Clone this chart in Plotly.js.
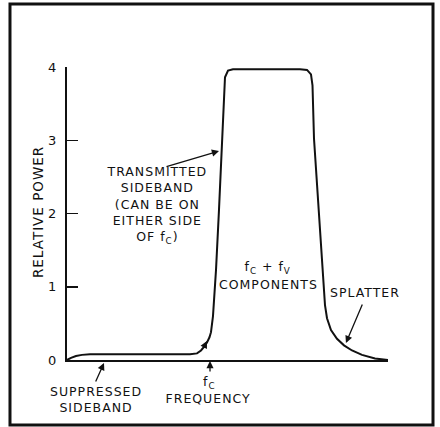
<!DOCTYPE html>
<html>
<head>
<meta charset="utf-8">
<script src="https://cdn.plot.ly/plotly-3.0.1.min.js"></script>
<style>
html,body{margin:0;padding:0;background:#fff;}
#chart{width:440px;height:427px;}
#chart .annotation-text{letter-spacing:1px;}
</style>
</head>
<body>
<div id="chart"></div>
<script>
// Frequency (arbitrary units, 0..100) and relative power
const frequency = [0, 1.25, 2.80, 4.67, 7.17, 16.5, 38.32, 40.50, 41.74, 42.68, 43.61, 44.39, 44.86, 45.48, 46.42, 47.35, 48.29, 48.75, 49.22, 50.16, 51.71,
  72.59, 74.77, 76.01, 76.48, 76.95, 78.19, 79.44, 80.37, 81.00, 82.24, 84.11, 86.29, 88.79, 91.90, 95.95, 100];
const relativePower = [0, 0.03, 0.055, 0.07, 0.078, 0.078, 0.078, 0.09, 0.13, 0.18, 0.24, 0.31, 0.38, 0.60, 1.23, 2.05, 3.00, 3.62, 3.86, 3.95, 3.97,
  3.97, 3.96, 3.90, 3.75, 3.02, 2.18, 1.36, 0.75, 0.57, 0.41, 0.29, 0.20, 0.13, 0.07, 0.02, 0];
const yTickVals = [0, 1, 2, 3, 4];
const yTickText = ["0", "1", "2", "3", "4"];

const FONT = "DejaVu Sans";
const txt = {family: FONT, size: 12.5, color: "#111"};

const trace = {
  x: frequency, y: relativePower, type: "scatter", mode: "lines",
  line: {color: "#111", width: 2, shape: "linear"}, hoverinfo: "skip"
};

function arrow(ref, x, y, ax, ay) {
  return {x: x, y: y, xref: ref ? "x" : "paper", yref: ref ? "y" : "paper", text: "", showarrow: true, ax: ax, ay: ay,
    arrowhead: 2, arrowsize: 1.1, arrowwidth: 1.3, arrowcolor: "#111", standoff: 0};
}
function label(x, y, text, extra) {
  return Object.assign({x: x, y: y, xref: "paper", yref: "paper", xanchor: "center", yanchor: "middle",
    text: text, showarrow: false, align: "center", font: txt}, extra || {});
}

const layout = {
  width: 440, height: 427,
  margin: {l: 67, r: 52, t: 67, b: 67},
  paper_bgcolor: "#fff", plot_bgcolor: "#fff",
  showlegend: false,
  xaxis: {range: [0, 100], showgrid: false, zeroline: false, showticklabels: false, ticks: "",
    showline: true, linecolor: "#111", linewidth: 1.5, fixedrange: true},
  yaxis: {range: [0, 4], showgrid: false, zeroline: false, tickvals: yTickVals, ticktext: yTickText,
    ticks: "inside", ticklen: 11, tickwidth: 1.5, tickcolor: "#111",
    showline: true, linecolor: "#111", linewidth: 2, ticklabelstandoff: 6,
    tickfont: {family: FONT, size: 13, color: "#111"}, fixedrange: true},
  shapes: [
    {type: "rect", xref: "paper", yref: "paper", x0: -0.1776, x1: 1.1402, y0: -0.2218, y1: 1.215,
      line: {color: "#111", width: 3}}
  ],
  annotations: [
    label(-0.0903, 0.505, "RELATIVE POWER", {textangle: -90, font: {family: FONT, size: 13.5, color: "#111"}}),
    label(0.2804, 0.529, "TRANSMITTED<br>SIDEBAND<br>(CAN BE ON<br>EITHER SIDE<br>OF f<sub>C</sub>)"),
    arrow(true, 47.35, 2.853, -54, 16),
    label(0.4424, -0.0751, "f<sub>C</sub>"),
    arrow(false, 0.4455, -0.0034, 0, 12),
    label(0.4393, -0.1331, "FREQUENCY"),
    label(0.0903, -0.1365, "SUPPRESSED<br>SIDEBAND"),
    arrow(false, 0.1153, -0.0102, -9, 20),
    label(0.626, 0.314, "f<sub>C</sub> + f<sub>V</sub>"),
    label(0.629, 0.256, "COMPONENTS"),
    label(0.928, 0.229, "SPLATTER"),
    arrow(true, 86.9, 0.232, 17, -40),
    arrow(true, 43.6, 0.26, -4, 8)
  ]
};

Plotly.newPlot("chart", [trace], layout, {displayModeBar: false, staticPlot: true});
</script>
</body>
</html>
